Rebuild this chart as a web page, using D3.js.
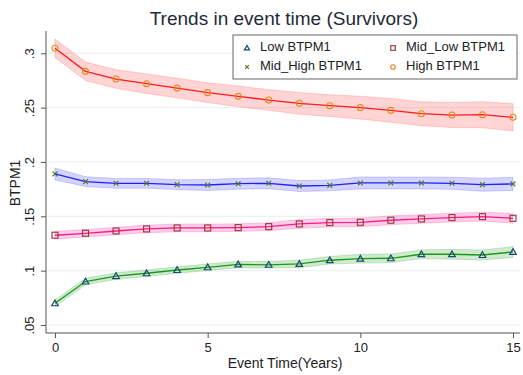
<!DOCTYPE html>
<html>
<head>
<meta charset="utf-8">
<script src="https://cdn.jsdelivr.net/npm/d3@7"></script>
<style>
  body { margin: 0; background: #fff; }
  text { font-family: "Liberation Sans", Arial, sans-serif; }
</style>
</head>
<body>
<div id="chart"></div>
<script>
// Data
const years = [0, 1, 2, 3, 4, 5, 6, 7, 8, 9, 10, 11, 12, 13, 14, 15];

const lowMean = [0.070, 0.090, 0.095, 0.0976, 0.1006, 0.1031, 0.1057, 0.1054, 0.1062, 0.1096, 0.1110, 0.1114, 0.1151, 0.1151, 0.1144, 0.1172];
const lowHalf = [0.003, 0.003, 0.003, 0.003, 0.003, 0.003, 0.003, 0.003, 0.0035, 0.0035, 0.004, 0.004, 0.004, 0.0045, 0.0045, 0.005];

const midLowMean = [0.1326, 0.1344, 0.1365, 0.1384, 0.1393, 0.1393, 0.1396, 0.1405, 0.1430, 0.1442, 0.1445, 0.1464, 0.1476, 0.1488, 0.1497, 0.1482];
const midLowHalf = [0.0035, 0.0035, 0.0035, 0.0035, 0.0035, 0.0035, 0.0035, 0.0035, 0.004, 0.004, 0.004, 0.004, 0.004, 0.004, 0.004, 0.0045];

const midHighMean = [0.1890, 0.1819, 0.1804, 0.1804, 0.1791, 0.1788, 0.1800, 0.1804, 0.1779, 0.1785, 0.1807, 0.1807, 0.1807, 0.1804, 0.1791, 0.1798];
const midHighHalf = [0.0055, 0.0045, 0.0045, 0.0045, 0.0045, 0.005, 0.005, 0.005, 0.005, 0.005, 0.0055, 0.0055, 0.0055, 0.0055, 0.006, 0.006];

const highMean = [0.3046, 0.2834, 0.2763, 0.2720, 0.2680, 0.2638, 0.2604, 0.2570, 0.2540, 0.2518, 0.2500, 0.2475, 0.2444, 0.2432, 0.2435, 0.2411];
const highHalf = [0.0085, 0.0085, 0.0085, 0.009, 0.009, 0.009, 0.0095, 0.0095, 0.010, 0.010, 0.0105, 0.011, 0.011, 0.0115, 0.012, 0.0125];

const yTicks = [0.05, 0.1, 0.15, 0.2, 0.25, 0.3];
const yTickLabels = [".05", ".1", ".15", ".2", ".25", ".3"];
const xTicks = [0, 5, 10, 15];

const series = [
    { name: "Low BTPM1", mean: lowMean, half: lowHalf, line: "#1a9a1a", band: "rgba(40,160,40,0.22)", marker: "triangle", mcolor: "#1a476f" },
    { name: "Mid_Low BTPM1", mean: midLowMean, half: midLowHalf, line: "#ff1a8c", band: "rgba(255,60,160,0.25)", marker: "square", mcolor: "#90353b" },
    { name: "Mid_High BTPM1", mean: midHighMean, half: midHighHalf, line: "#2020ff", band: "rgba(60,60,255,0.22)", marker: "cross", mcolor: "#55752f" },
    { name: "High BTPM1", mean: highMean, half: highHalf, line: "#ff1a1a", band: "rgba(255,60,60,0.22)", marker: "circle", mcolor: "#e8881f" }
];

const width = 523, height = 375;
const svg = d3.select("#chart").append("svg")
    .attr("width", width)
    .attr("height", height);

const x = d3.scaleLinear().domain([0, 15]).range([55, 513]);
const y = d3.scaleLinear().domain([0.05, 0.3]).range([325, 53.3]);

// Gridlines
svg.append("g")
    .selectAll("line")
    .data(yTicks)
    .enter()
    .append("line")
    .attr("x1", 47).attr("x2", 520)
    .attr("y1", d => y(d)).attr("y2", d => y(d))
    .attr("stroke", "#eaf2f3")
    .attr("stroke-width", 1.2);

// Axes
const yAxis = svg.append("g")
    .attr("transform", "translate(46,0)")
    .call(d3.axisLeft(y).tickValues(yTicks).tickFormat((d, i) => yTickLabels[i]).tickSize(5).tickSizeOuter(0));
yAxis.select(".domain").attr("d", "M0,31V333").attr("stroke", "#555");
yAxis.selectAll(".tick line").attr("stroke", "#555");
yAxis.selectAll(".tick text")
    .attr("transform", "rotate(-90)")
    .attr("x", 0).attr("y", -12)
    .attr("dy", "0")
    .attr("text-anchor", "middle")
    .style("font-size", "13px")
    .attr("fill", "#222");

const xAxis = svg.append("g")
    .attr("transform", "translate(0,333)")
    .call(d3.axisBottom(x).tickValues(xTicks).tickSize(5).tickSizeOuter(0));
xAxis.select(".domain").attr("d", "M46,0H520").attr("stroke", "#555");
xAxis.selectAll(".tick line").attr("stroke", "#555");
xAxis.selectAll(".tick text")
    .attr("y", 10)
    .style("font-size", "13px")
    .attr("fill", "#222");

// Bands and lines
series.forEach(s => {
    const pts = years.map((t, i) => ({ x: t, m: s.mean[i], lo: s.mean[i] - s.half[i], hi: s.mean[i] + s.half[i] }));
    svg.append("path")
        .datum(pts)
        .attr("fill", s.band)
        .attr("stroke", s.band)
        .attr("stroke-width", 1)
        .attr("d", d3.area().x(d => x(d.x)).y0(d => y(d.lo)).y1(d => y(d.hi)));
    svg.append("path")
        .datum(pts)
        .attr("fill", "none")
        .attr("stroke", s.line)
        .attr("stroke-width", 1.3)
        .attr("d", d3.line().x(d => x(d.x)).y(d => y(d.m)));
});

function drawMarker(g, type, cx, cy, color, r) {
    if (type === "circle") {
        g.append("circle").attr("cx", cx).attr("cy", cy).attr("r", r)
            .attr("fill", "none").attr("stroke", color).attr("stroke-width", 1.1);
    } else if (type === "square") {
        g.append("rect").attr("x", cx - r).attr("y", cy - r).attr("width", 2 * r).attr("height", 2 * r)
            .attr("fill", "none").attr("stroke", color).attr("stroke-width", 1.1);
    } else if (type === "triangle") {
        const h = r * 1.1;
        g.append("path")
            .attr("d", `M${cx},${cy - h}L${cx + h},${cy + h * 0.75}L${cx - h},${cy + h * 0.75}Z`)
            .attr("fill", "none").attr("stroke", color).attr("stroke-width", 1.2);
    } else {
        const c = r * 0.8;
        g.append("path")
            .attr("d", `M${cx - c},${cy - c}L${cx + c},${cy + c}M${cx - c},${cy + c}L${cx + c},${cy - c}`)
            .attr("stroke", color).attr("stroke-width", 1.2);
    }
}

// Markers
series.forEach(s => {
    const g = svg.append("g");
    years.forEach((t, i) => drawMarker(g, s.marker, x(t), y(s.mean[i]), s.mcolor, 3));
});

// Legend
const legend = svg.append("g");
legend.append("rect")
    .attr("x", 233).attr("y", 35).attr("width", 284).attr("height", 44)
    .attr("fill", "#fff").attr("stroke", "#666").attr("stroke-width", 1);
const legPos = [[247, 48], [393, 48], [247, 67], [393, 67]];
series.forEach((s, i) => {
    const [lx, ly] = legPos[i];
    drawMarker(legend, s.marker, lx, ly, s.mcolor, 2.3);
    legend.append("text")
        .attr("x", lx + 13).attr("y", ly)
        .attr("dominant-baseline", "middle")
        .style("font-size", "13px")
        .attr("fill", "#222")
        .text(s.name);
});

// Title and axis labels
svg.append("text")
    .attr("x", 284).attr("y", 25)
    .attr("text-anchor", "middle")
    .style("font-size", "19px")
    .attr("fill", "#1e2a38")
    .text("Trends in event time (Survivors)");

svg.append("text")
    .attr("transform", "rotate(-90)")
    .attr("x", -183).attr("y", 20)
    .attr("text-anchor", "middle")
    .style("font-size", "14px")
    .attr("fill", "#222")
    .text("BTPM1");

svg.append("text")
    .attr("x", 285).attr("y", 368)
    .attr("text-anchor", "middle")
    .style("font-size", "14px")
    .attr("fill", "#222")
    .text("Event Time(Years)");
</script>
</body>
</html>
